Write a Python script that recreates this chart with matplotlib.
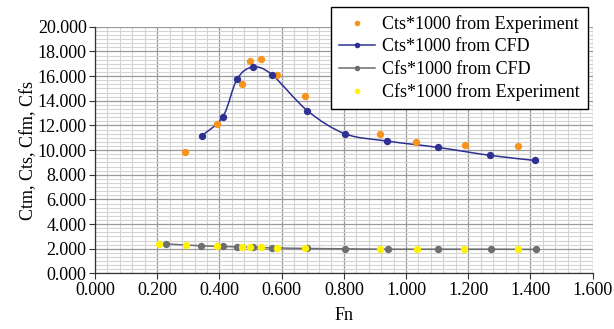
import numpy as np
import matplotlib
matplotlib.use('Agg')
import matplotlib.pyplot as plt
from matplotlib.path import Path
from matplotlib.patches import PathPatch
from matplotlib.lines import Line2D
from matplotlib.ticker import MultipleLocator, FormatStrFormatter

# Cts*1000 from experiment
fn_cts_exp = [0.290, 0.391, 0.472, 0.497, 0.534, 0.585, 0.675, 0.916, 1.033, 1.188, 1.360]
cts_exp = [9.86, 12.08, 15.33, 17.22, 17.36, 16.06, 14.35, 11.32, 10.68, 10.41, 10.30]

# Cts*1000 from CFD
fn_cfd = [0.343, 0.411, 0.457, 0.508, 0.569, 0.683, 0.804, 0.940, 1.102, 1.271, 1.416]
cts_cfd = [11.16, 12.70, 15.76, 16.73, 16.11, 13.19, 11.32, 10.73, 10.22, 9.57, 9.16]

# Cfs*1000 from CFD
fn_cfs_cfd = [0.228, 0.342, 0.411, 0.457, 0.508, 0.569, 0.681, 0.804, 0.941, 1.103, 1.272, 1.417]
cfs_cfd = [2.40, 2.24, 2.19, 2.16, 2.11, 2.08, 2.03, 2.00, 1.97, 1.97, 1.97, 1.95]

# Cfs*1000 from experiment
fn_cfs_exp = [0.207, 0.292, 0.391, 0.472, 0.497, 0.534, 0.584, 0.676, 0.916, 1.034, 1.187, 1.360]
cfs_exp = [2.40, 2.30, 2.19, 2.13, 2.13, 2.11, 2.08, 2.03, 1.97, 1.97, 1.97, 1.97]

ORANGE = '#F7941D'
NAVY = '#2E3192'
GRAY = '#6D6E71'
YELLOW = '#FFF200'

plt.rcParams['font.family'] = ['Liberation Serif', 'DejaVu Serif']


def smooth_path(x, y):
    # excel-like smoothed line: bezier segments, catmull-rom tangents
    p = np.column_stack([x, y])
    n = len(p)
    verts = [p[0]]
    codes = [Path.MOVETO]
    for i in range(n - 1):
        p0 = p[i - 1] if i > 0 else p[i]
        p3 = p[i + 2] if i + 2 < n else p[i + 1]
        c1 = p[i] + (p[i + 1] - p0) / 6.0
        c2 = p[i + 1] - (p3 - p[i]) / 6.0
        verts += [c1, c2, p[i + 1]]
        codes += [Path.CURVE4] * 3
    return Path(verts, codes)


fig = plt.figure(figsize=(6.14, 3.29), dpi=100)
ax = fig.add_axes([0.1547, 0.1687, 0.8106, 0.7501])

ax.set_xlim(0, 1.6)
ax.set_ylim(0, 20)
ax.xaxis.set_major_locator(MultipleLocator(0.2))
ax.xaxis.set_minor_locator(MultipleLocator(0.04))
ax.yaxis.set_major_locator(MultipleLocator(2))
ax.yaxis.set_minor_locator(MultipleLocator(2 / 6))
ax.xaxis.set_major_formatter(FormatStrFormatter('%.3f'))
ax.yaxis.set_major_formatter(FormatStrFormatter('%.3f'))

ax.grid(which='minor', color='#D4D4D4', linewidth=0.8)
ax.grid(which='major', color='#9A9A9A', linewidth=0.9)
ax.set_axisbelow(True)
ax.tick_params(which='minor', length=0)
ax.tick_params(which='major', direction='out', length=4, width=0.8, color='#333333',
               labelsize=13, pad=2)
for s in ['top', 'right']:
    ax.spines[s].set_visible(False)
for s in ['left', 'bottom']:
    ax.spines[s].set_color('#333333')
    ax.spines[s].set_linewidth(0.9)

ax.add_patch(PathPatch(smooth_path(fn_cfd, cts_cfd), facecolor='none', edgecolor=NAVY,
                       linewidth=1.1, zorder=3))
ax.add_patch(PathPatch(smooth_path(fn_cfs_cfd, cfs_cfd), facecolor='none', edgecolor=GRAY,
                       linewidth=1.1, zorder=3))

ms = 5.3
ax.plot(fn_cts_exp, cts_exp, 'o', color=ORANGE, markersize=ms, markeredgewidth=0, zorder=4)
ax.plot(fn_cfd, cts_cfd, 'o', color=NAVY, markersize=ms, markeredgewidth=0, zorder=4)
ax.plot(fn_cfs_cfd, cfs_cfd, 'o', color=GRAY, markersize=ms, markeredgewidth=0, zorder=4)
ax.plot(fn_cfs_exp, cfs_exp, 'o', color=YELLOW, markersize=ms, markeredgewidth=0, zorder=5)

ax.set_xlabel('Fn', fontsize=13, labelpad=6)
ax.set_ylabel('Ctm, Cts, Cfm, Cfs', fontsize=13, labelpad=0)

handles = [
    Line2D([], [], linestyle='none', marker='o', color=ORANGE, markersize=4, markeredgewidth=0),
    Line2D([], [], color=NAVY, marker='o', markersize=4, linewidth=1.1, markeredgewidth=0),
    Line2D([], [], color=GRAY, marker='o', markersize=4, linewidth=1.1, markeredgewidth=0),
    Line2D([], [], linestyle='none', marker='o', color=YELLOW, markersize=4, markeredgewidth=0),
]
labels = ['Cts*1000 from Experiment', 'Cts*1000 from CFD',
          'Cfs*1000 from CFD', 'Cfs*1000 from Experiment']
leg = fig.legend(handles, labels, loc='upper right', bbox_to_anchor=(588 / 614, 1 - 7 / 329),
                 fontsize=13, frameon=True, fancybox=False, framealpha=1, edgecolor='black',
                 borderpad=0.45, labelspacing=0.3, handlelength=2.0, handletextpad=0.4,
                 borderaxespad=0)
leg.get_frame().set_linewidth(1.0)

fig.savefig('out.png', dpi=100)
